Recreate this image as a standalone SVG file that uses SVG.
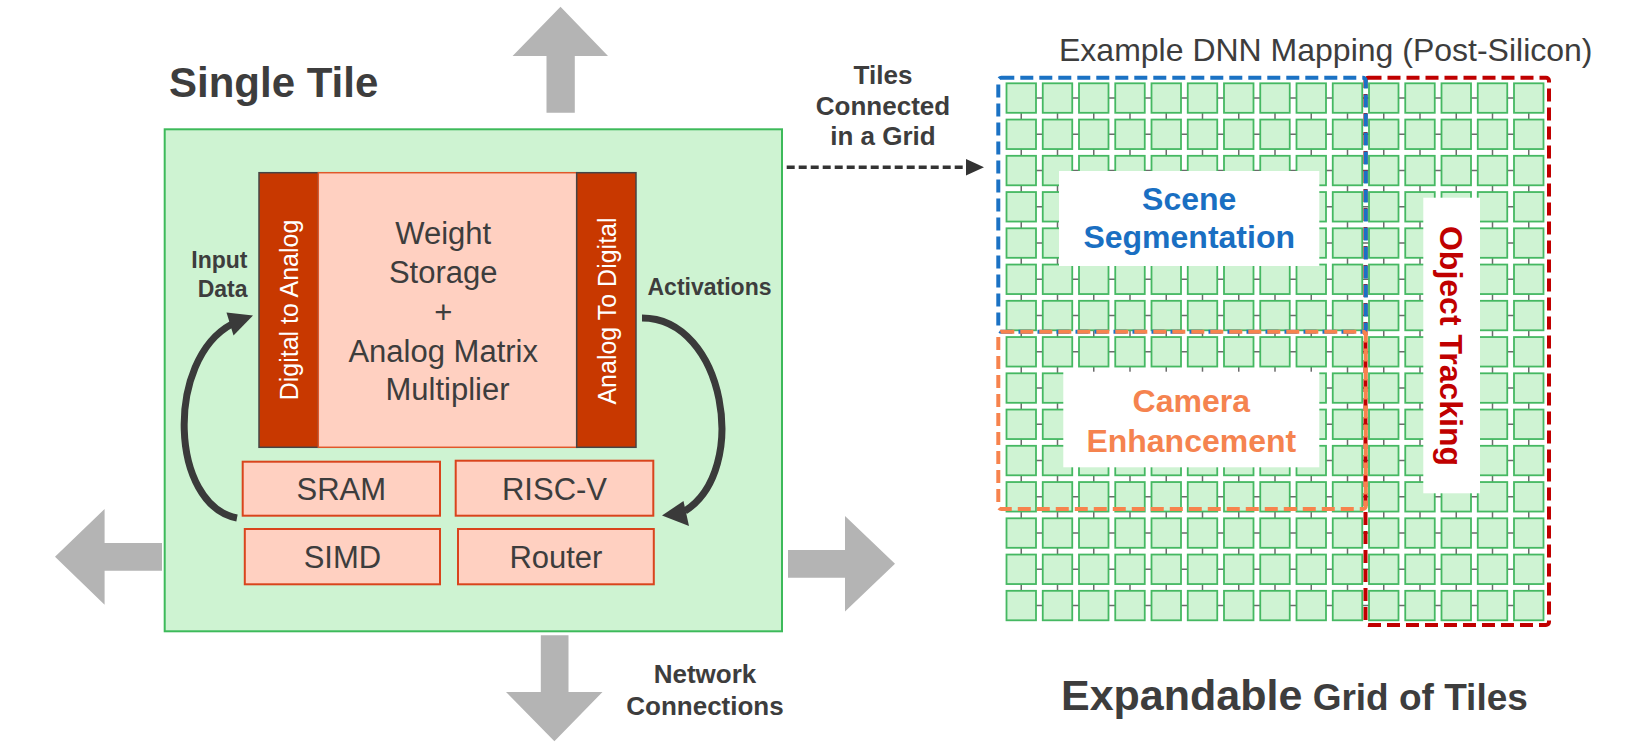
<svg xmlns="http://www.w3.org/2000/svg" width="1640" height="746" viewBox="0 0 1640 746">
<style>
text{font-family:"Liberation Sans",Arial,sans-serif;fill:#3d3d3d}
.b{font-weight:bold}
.gray{fill:#b4b4b4}
.cell{fill:#cff3d3;stroke:#45b862;stroke-width:1.8}
.box{fill:#ffd0c1;stroke:#d9441c;stroke-width:2}
.strip{fill:#c83800;stroke:#454545;stroke-width:1.5}
.wbox{fill:#ffffff}
.dash{fill:none;stroke-width:4;stroke-dasharray:13 6}
.curve{fill:none;stroke:#3a3a3a;stroke-width:7}
</style>
<defs>
<g id="cellrow">
<rect class="cell" x="1006.5" y="0" width="29.5" height="29.5"/>
<rect class="cell" x="1042.75" y="0" width="29.5" height="29.5"/>
<rect class="cell" x="1079" y="0" width="29.5" height="29.5"/>
<rect class="cell" x="1115.25" y="0" width="29.5" height="29.5"/>
<rect class="cell" x="1151.5" y="0" width="29.5" height="29.5"/>
<rect class="cell" x="1187.75" y="0" width="29.5" height="29.5"/>
<rect class="cell" x="1224" y="0" width="29.5" height="29.5"/>
<rect class="cell" x="1260.25" y="0" width="29.5" height="29.5"/>
<rect class="cell" x="1296.5" y="0" width="29.5" height="29.5"/>
<rect class="cell" x="1332.75" y="0" width="29.5" height="29.5"/>
<rect class="cell" x="1369" y="0" width="29.5" height="29.5"/>
<rect class="cell" x="1405.25" y="0" width="29.5" height="29.5"/>
<rect class="cell" x="1441.5" y="0" width="29.5" height="29.5"/>
<rect class="cell" x="1477.75" y="0" width="29.5" height="29.5"/>
<rect class="cell" x="1514" y="0" width="29.5" height="29.5"/>
</g>
</defs>
<rect width="1640" height="746" fill="#ffffff"/>

<!-- Network arrows -->
<g id="net-arrows" class="gray">
<polygon points="560.5,6.7 608,56 574.8,56 574.8,112.7 546.5,112.7 546.5,56 512.6,56"/>
<polygon points="55,556.8 104.6,509 104.6,543 162,543 162,570.7 104.6,570.7 104.6,604.7"/>
<polygon points="788,550 845,550 845,516 895,563.8 845,611.6 845,577.7 788,577.7"/>
<polygon points="540.8,635.3 568.5,635.3 568.5,692 602.5,692 554.4,741.3 506,692 540.8,692"/>
</g>

<text id="title-single" class="b" x="169" y="97" font-size="42">Single Tile</text>

<!-- Single tile -->
<g id="tile">
<rect x="164.7" y="129.3" width="617.3" height="502" fill="#cef3d2" stroke="#3dba5a" stroke-width="2"/>
</g>

<g id="dac">
<rect class="strip" x="259" y="172.7" width="59.3" height="274.6"/>
<text transform="translate(297.5,310) rotate(-90)" text-anchor="middle" font-size="25" style="fill:#ffffff">Digital to Analog</text>
</g>
<g id="weight">
<rect x="318.3" y="172.7" width="258.4" height="274.6" fill="#ffd0c1" stroke="#e0582a" stroke-width="1.5"/>
<text text-anchor="middle" font-size="31" x="447.5">
<tspan x="447.5" y="244">Weight</tspan>
<tspan x="447.5" y="283.3">Storage</tspan>
<tspan x="447.5" y="323">+</tspan>
<tspan x="447.5" y="361.7">Analog Matrix</tspan>
<tspan x="447.5" y="400.3">Multiplier</tspan>
</text>
</g>
<g id="adc">
<rect class="strip" x="576.7" y="172.7" width="59.3" height="274.6"/>
<text transform="translate(616,311) rotate(-90)" text-anchor="middle" font-size="25" style="fill:#ffffff">Analog To Digital</text>
</g>

<g id="sram"><rect class="box" x="242.7" y="461.7" width="197.3" height="54"/><text x="341.3" y="500" text-anchor="middle" font-size="31">SRAM</text></g>
<g id="riscv"><rect class="box" x="455.7" y="460.7" width="197.6" height="55"/><text x="554.5" y="500" text-anchor="middle" font-size="31">RISC-V</text></g>
<g id="simd"><rect class="box" x="244.8" y="529" width="195.2" height="55.3"/><text x="342.4" y="568" text-anchor="middle" font-size="31">SIMD</text></g>
<g id="router"><rect class="box" x="458" y="529" width="195.8" height="55.3"/><text x="555.9" y="568" text-anchor="middle" font-size="31">Router</text></g>

<text id="lbl-input" class="b" text-anchor="end" font-size="23"><tspan x="247.5" y="268.3">Input</tspan><tspan x="247.5" y="296.7">Data</tspan></text>
<text id="lbl-act" class="b" x="647.5" y="295" font-size="23">Activations</text>
<text id="lbl-net" class="b" text-anchor="middle" font-size="26"><tspan x="705" y="683">Network</tspan><tspan x="705" y="714.7">Connections</tspan></text>
<text id="lbl-tiles" class="b" text-anchor="middle" font-size="26"><tspan x="883" y="84">Tiles</tspan><tspan x="883" y="115">Connected</tspan><tspan x="883" y="145">in a Grid</tspan></text>

<!-- Connectors -->
<g id="connectors">
<path class="curve" d="M237 518 C170 505 165 360 232 324"/>
<polygon points="253,315.5 226.5,312.5 233.5,335.5" fill="#3a3a3a"/>
<path class="curve" d="M642 318 C725 318 750 470 685 511"/>
<polygon points="662,515.5 683.5,501 689,526" fill="#3a3a3a"/>
<line x1="786.7" y1="167.3" x2="968" y2="167.3" stroke="#333333" stroke-width="3.5" stroke-dasharray="8 4"/>
<polygon points="984,167.3 966,159 966,175.6" fill="#333333"/>
</g>

<!-- Grid of tiles -->
<g id="grid">
<path fill="none" stroke="#6b6b6b" stroke-width="1.5" d="M1006.5 98.05H1543.5M1006.5 134.3H1543.5M1006.5 170.55H1543.5M1006.5 206.8H1543.5M1006.5 243.05H1543.5M1006.5 279.3H1543.5M1006.5 315.55H1543.5M1006.5 351.8H1543.5M1006.5 388.05H1543.5M1006.5 424.3H1543.5M1006.5 460.55H1543.5M1006.5 496.8H1543.5M1006.5 533.05H1543.5M1006.5 569.3H1543.5M1006.5 605.55H1543.5M1021.25 83.3V620.3M1057.5 83.3V620.3M1093.75 83.3V620.3M1130 83.3V620.3M1166.25 83.3V620.3M1202.5 83.3V620.3M1238.75 83.3V620.3M1275 83.3V620.3M1311.25 83.3V620.3M1347.5 83.3V620.3M1383.75 83.3V620.3M1420 83.3V620.3M1456.25 83.3V620.3M1492.5 83.3V620.3M1528.75 83.3V620.3"/>
<use href="#cellrow" y="83.3"/>
<use href="#cellrow" y="119.55"/>
<use href="#cellrow" y="155.8"/>
<use href="#cellrow" y="192.05"/>
<use href="#cellrow" y="228.3"/>
<use href="#cellrow" y="264.55"/>
<use href="#cellrow" y="300.8"/>
<use href="#cellrow" y="337.05"/>
<use href="#cellrow" y="373.3"/>
<use href="#cellrow" y="409.55"/>
<use href="#cellrow" y="445.8"/>
<use href="#cellrow" y="482.05"/>
<use href="#cellrow" y="518.3"/>
<use href="#cellrow" y="554.55"/>
<use href="#cellrow" y="590.8"/>
</g>

<g id="map-object">
<rect class="dash" x="1365.5" y="77.7" width="183.5" height="547.3" rx="3" stroke="#c00000"/>
</g>
<g id="map-scene">
<rect class="dash" x="998.3" y="77.7" width="367.5" height="254" rx="3" stroke="#1b72c4"/>
</g>
<g id="map-camera">
<rect class="dash" x="998.3" y="331.7" width="367.5" height="177.3" rx="3" stroke="#f7834d"/>
</g>

<g id="label-scene">
<rect class="wbox" x="1059" y="171" width="260.3" height="95"/>
<text class="b" text-anchor="middle" font-size="32" style="fill:#1a6fc2"><tspan x="1189.2" y="210">Scene</tspan><tspan x="1189.2" y="248.3">Segmentation</tspan></text>
</g>
<g id="label-camera">
<rect class="wbox" x="1063.3" y="371.7" width="256" height="95.6"/>
<text class="b" text-anchor="middle" font-size="32" style="fill:#f5834f"><tspan x="1191.3" y="411.7">Camera</tspan><tspan x="1191.3" y="451.7">Enhancement</tspan></text>
</g>
<g id="label-object">
<rect class="wbox" x="1423.3" y="197.7" width="56.7" height="295.6"/>
<text class="b" transform="translate(1440,346) rotate(90)" text-anchor="middle" font-size="32" style="fill:#c00000">Object Tracking</text>
</g>

<text id="title-map" x="1059" y="61" font-size="32">Example DNN Mapping (Post-Silicon)</text>
<text id="title-grid" class="b" x="1061" y="710"><tspan font-size="43">Expandable</tspan><tspan font-size="37"> Grid of Tiles</tspan></text>
</svg>
